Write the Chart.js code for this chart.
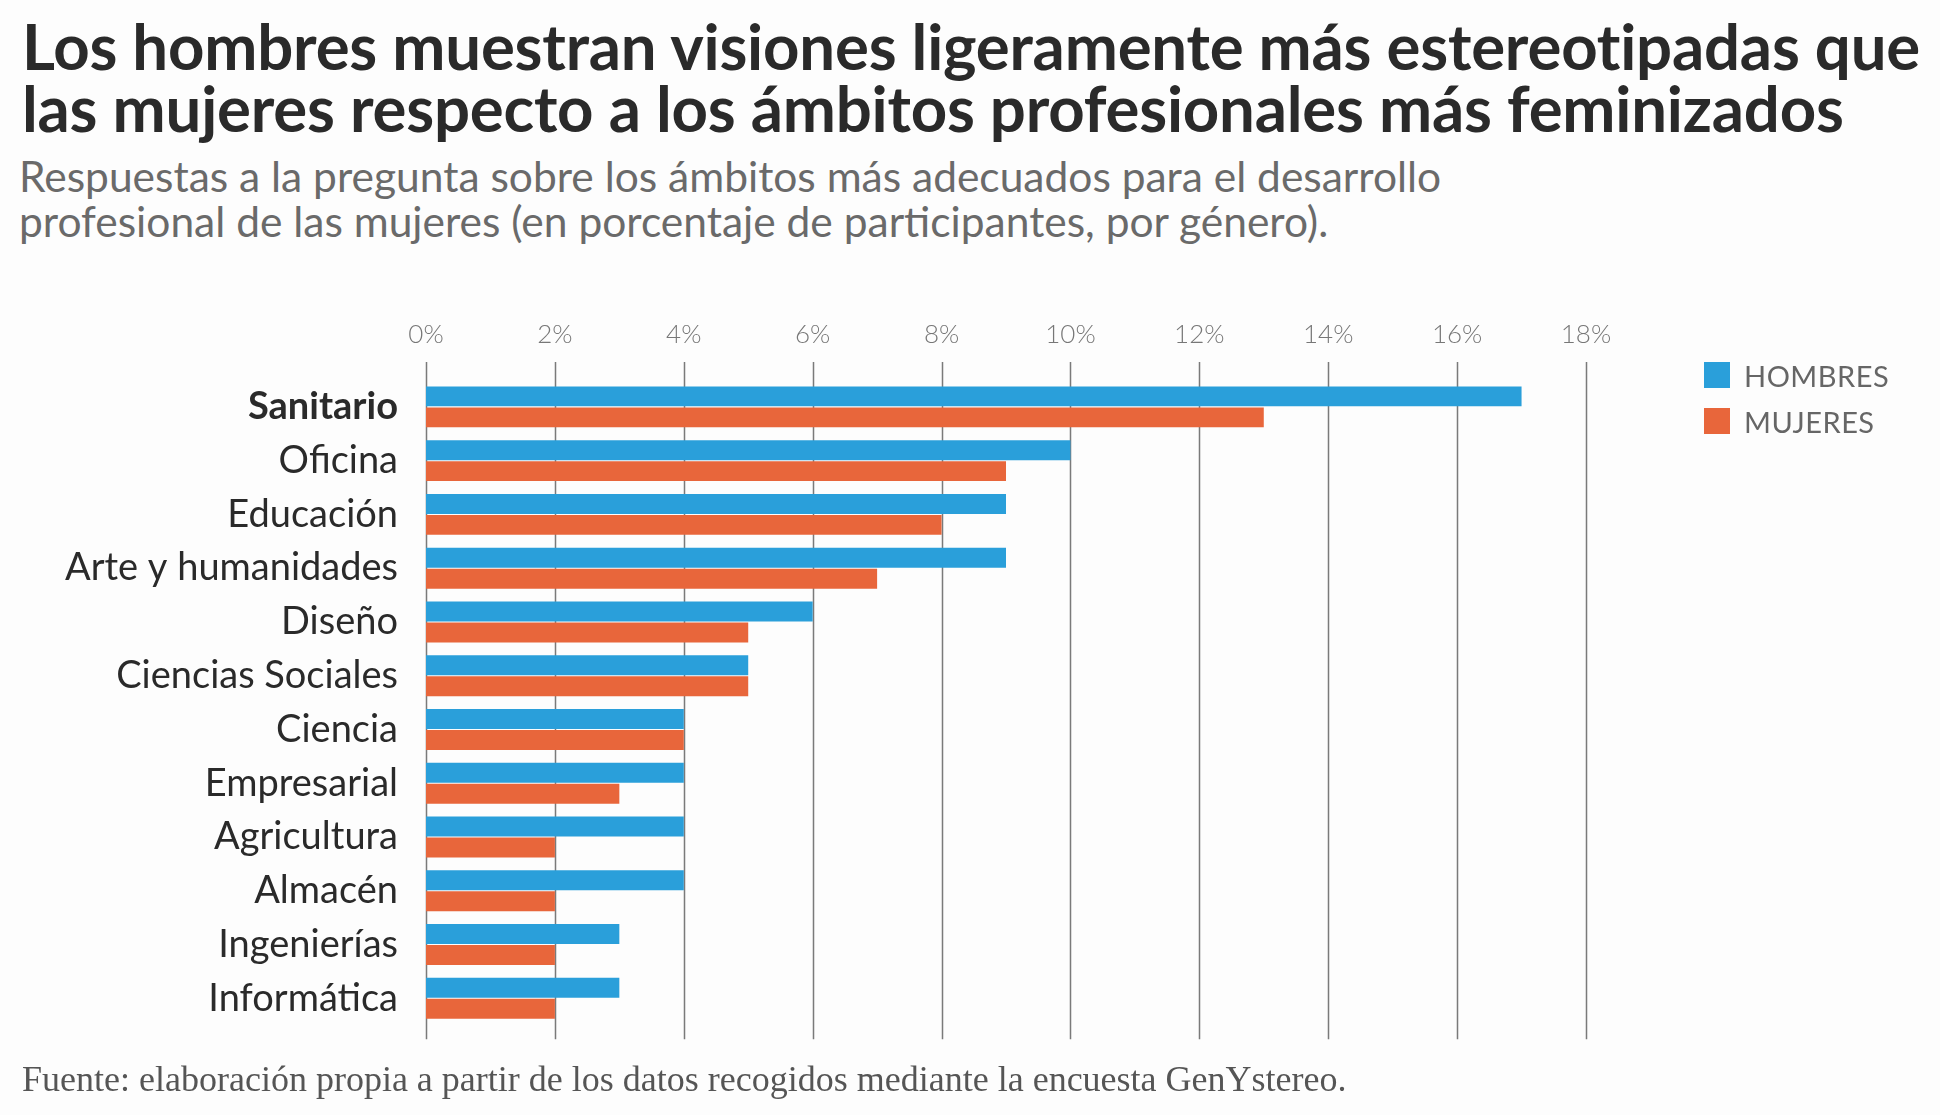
<!DOCTYPE html>
<html lang="es">
<head>
<meta charset="utf-8">
<title>Ámbitos profesionales por género</title>
<script src="https://cdn.jsdelivr.net/npm/chart.js@4.4.1/dist/chart.umd.min.js"></script>
<style>
  html, body { margin: 0; padding: 0; background: #fdfdfd; }
  body { width: 1940px; height: 1115px; position: relative; overflow: hidden; font-family: 'Lato', sans-serif; }
  h1 {
    position: absolute; left: 22px; top: 15px; margin: 0;
    font-size: 63.5px; line-height: 62px; font-weight: 700; color: #2a2a2a; letter-spacing: -0.2px;
  }
  .sub {
    position: absolute; left: 19px; top: 153px; margin: 0;
    font-size: 42.5px; line-height: 45px; font-weight: 400; color: #6a6a6a;
  }
  #wrap { position: absolute; left: 0; top: 300px; width: 1940px; height: 776px; }
  .legend { position: absolute; left: 1704px; top: 352px; }
  .legend div { display: flex; align-items: center; height: 46px; font-size: 29px; color: #666; letter-spacing: 0.5px; }
  .legend span { display: inline-block; width: 26px; height: 26px; margin-right: 14px; }
  .src {
    position: absolute; left: 22px; top: 1058px; margin: 0;
    font-family: 'Liberation Serif', 'DejaVu Serif', serif; font-size: 36px; color: #555;
  }
</style>
</head>
<body>
<h1>Los hombres muestran visiones ligeramente más estereotipadas que<br>las mujeres respecto a los ámbitos profesionales más feminizados</h1>
<p class="sub">Respuestas a la pregunta sobre los ámbitos más adecuados para el desarrollo<br>profesional de las mujeres (en porcentaje de participantes, por género).</p>
<div id="wrap"><canvas id="chart"></canvas></div>
<div class="legend">
  <div><span style="background:#2a9fda"></span>HOMBRES</div>
  <div><span style="background:#e8663b"></span>MUJERES</div>
</div>
<p class="src">Fuente: elaboración propia a partir de los datos recogidos mediante la encuesta GenYstereo.</p>
<script>
'use strict';

const categories = ['Sanitario', 'Oficina', 'Educación', 'Arte y humanidades', 'Diseño',
  'Ciencias Sociales', 'Ciencia', 'Empresarial', 'Agricultura', 'Almacén', 'Ingenierías', 'Informática'];
const hombres = [17, 10, 9, 9, 6, 5, 4, 4, 4, 4, 3, 3];
const mujeres = [13, 9, 8, 7, 5, 5, 4, 3, 2, 2, 2, 2];
const xTicks = [0, 2, 4, 6, 8, 10, 12, 14, 16, 18];

const BLUE = '#2a9fda';
const ORANGE = '#e8663b';
const GRID = '#7a7a7a';

// vertical lines, drawn a bit past the plot area like the original
const gridLines = {
  id: 'gridLines',
  beforeDatasetsDraw(chart) {
    const { ctx, chartArea, scales } = chart;
    ctx.save();
    ctx.strokeStyle = GRID;
    ctx.lineWidth = 1.5;
    xTicks.forEach(v => {
      const x = Math.round(scales.x.getPixelForValue(v)) + 0.5;
      ctx.beginPath();
      ctx.moveTo(x, chartArea.top - 18);
      ctx.lineTo(x, chartArea.bottom + 14);
      ctx.stroke();
    });
    ctx.restore();
  },
};

new Chart(document.getElementById('chart'), {
  type: 'bar',
  data: {
    labels: categories,
    datasets: [
      { label: 'HOMBRES', data: hombres, backgroundColor: BLUE, categoryPercentage: 0.78, barPercentage: 0.95 },
      { label: 'MUJERES', data: mujeres, backgroundColor: ORANGE, categoryPercentage: 0.78, barPercentage: 0.95 },
    ],
  },
  options: {
    indexAxis: 'y',
    responsive: true,
    maintainAspectRatio: false,
    animation: false,
    layout: { padding: { left: 0, right: 354, top: 0, bottom: 14 } },
    plugins: { legend: { display: false }, tooltip: { enabled: false } },
    scales: {
      x: {
        position: 'top',
        min: 0,
        max: 18,
        afterBuildTicks: s => { s.ticks = xTicks.map(v => ({ value: v })); },
        afterFit: s => { s.height = 80; },
        grid: { display: false, drawTicks: false },
        border: { display: false },
        ticks: {
          padding: 30,
          color: '#777',
          font: { family: 'Lato', size: 26, weight: '300' },
          callback: v => v + '%',
        },
      },
      y: {
        afterFit: s => { s.width = 426; },
        grid: { display: false, drawTicks: false },
        border: { display: false },
        ticks: {
          padding: 28,
          color: '#2a2a2a',
          font: ctx => ({ family: 'Lato', size: 38, weight: ctx.index === 0 ? '700' : '400' }),
        },
      },
    },
  },
  plugins: [gridLines],
});
</script>
</body>
</html>
